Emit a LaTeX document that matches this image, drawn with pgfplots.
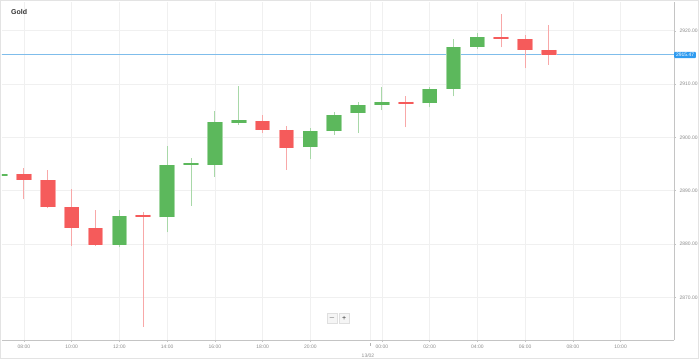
\documentclass[border=0pt]{standalone}
\usepackage{pgfplots}
\pgfplotsset{compat=1.18}
\usepackage{fontspec}
\setmainfont{Liberation Sans}
\definecolor{cgreen}{HTML}{5CB85C}
\definecolor{cred}{HTML}{F55B5B}
\definecolor{gwick}{HTML}{A8D8A8}
\definecolor{rwick}{HTML}{F8A8A8}
\definecolor{gridc}{HTML}{F0F0F0}
\definecolor{axc}{HTML}{C4C4C4}
\definecolor{pline}{HTML}{7FBDEB}
\definecolor{pbox}{HTML}{2E9BF0}
\definecolor{tickc}{HTML}{8C8C8C}
\definecolor{titlec}{HTML}{333333}
\begin{document}
\begin{tikzpicture}
\useasboundingbox (-2pt,-19pt) rectangle (697pt,340pt);
\draw[gray!22, line width=0.6pt] (-1.5pt,-18.5pt) rectangle (696.5pt,339.4pt);
\begin{axis}[
  scale only axis, width=672pt, height=338pt,
  xmin=-0.92, xmax=27.24, ymin=2862.0, ymax=2925.4,
  clip mode=individual,
  unbounded coords=jump,
  axis x line*=bottom, axis y line*=right,
  axis line style={axc, line width=0.6pt, -},
  tick align=outside, major tick length=2pt,
  tick style={axc, line width=0.5pt},
  xtick={0,2,4,6,8,10,12,15,17,19,21,23,25},
  xticklabels={08:00,10:00,12:00,14:00,16:00,18:00,20:00,00:00,02:00,04:00,06:00,08:00,10:00},
  extra x ticks={14.5},
  extra x tick labels={13/02},
  extra x tick style={grid style={gray!28, line width=0.6pt}, major tick length=6pt,
     tick style={gray!60, dashed, line width=0.5pt},
     xticklabel style={yshift=-5.5pt, xshift=-2pt}},
  ytick={2870,2880,2890,2900,2910,2920},
  yticklabel pos=right,
  yticklabel style={/pgf/number format/.cd, fixed, fixed zerofill, precision=2, 1000 sep={}, assume math mode=true},
  xticklabel style={/pgf/number format/assume math mode=true, yshift=0.8pt},
  ticklabel style={font=\fontsize{5}{6}\selectfont, text=tickc},
  grid=major, major grid style={gridc, line width=0.6pt},
]
% price line
\addplot[draw=pline, line width=1pt] coordinates {(-1,2915.47) (28,2915.47)};
% green wicks
\addplot[draw=gwick, line width=1pt] coordinates {
(-1,2892.8) (-1,2893.2) (-1,nan)
(4,2879.4) (4,2886.3) (4,nan)
(6,2882.2) (6,2898.3) (6,nan)
(7,2887.2) (7,2896.1) (7,nan)
(8,2892.6) (8,2904.9) (8,nan)
(9,2902.3) (9,2909.6) (9,nan)
(12,2895.9) (12,2901.8) (12,nan)
(13,2900.5) (13,2904.7) (13,nan)
(14,2900.8) (14,2906.7) (14,nan)
(15,2905.1) (15,2909.4) (15,nan)
(17,2905.7) (17,2909.4) (17,nan)
(18,2907.7) (18,2918.4) (18,nan)
(19,2916.6) (19,2919.6)
};
% red wicks
\addplot[draw=rwick, line width=1pt] coordinates {
(0,2888.4) (0,2894.2) (0,nan)
(1,2886.7) (1,2893.8) (1,nan)
(2,2879.7) (2,2890.3) (2,nan)
(3,2879.7) (3,2886.3) (3,nan)
(5,2864.5) (5,2886.0) (5,nan)
(10,2900.8) (10,2904.2) (10,nan)
(11,2893.9) (11,2902.2) (11,nan)
(16,2901.9) (16,2907.8) (16,nan)
(20,2916.9) (20,2923.2) (20,nan)
(21,2913.0) (21,2919.3) (21,nan)
(22,2913.6) (22,2921.1)
};
% green bodies (open, close)
\pgfplotsset{gbody/.style={line cap=butt, line width=#1}}
\addplot[draw=cgreen!55, gbody=15.6pt] coordinates {
(-1,2892.85) (-1,2893.15) (-1,nan)
(4,2879.9) (4,2885.3) (4,nan)
(6,2885.0) (6,2894.8) (6,nan)
(7,2894.87) (7,2895.13) (7,nan)
(8,2894.9) (8,2902.8) (8,nan)
(9,2902.75) (9,2903.25) (9,nan)
(12,2898.2) (12,2901.2) (12,nan)
(13,2901.2) (13,2904.2) (13,nan)
(14,2904.6) (14,2906.1) (14,nan)
(15,2906.1) (15,2906.6) (15,nan)
(17,2906.4) (17,2909.1) (17,nan)
(18,2909.1) (18,2916.9) (18,nan)
(19,2917.0) (19,2918.8)
};
\addplot[draw=cgreen, gbody=13.8pt] coordinates {
(-1,2892.85) (-1,2893.15) (-1,nan)
(4,2879.9) (4,2885.3) (4,nan)
(6,2885.0) (6,2894.8) (6,nan)
(7,2894.87) (7,2895.13) (7,nan)
(8,2894.9) (8,2902.8) (8,nan)
(9,2902.75) (9,2903.25) (9,nan)
(12,2898.2) (12,2901.2) (12,nan)
(13,2901.2) (13,2904.2) (13,nan)
(14,2904.6) (14,2906.1) (14,nan)
(15,2906.1) (15,2906.6) (15,nan)
(17,2906.4) (17,2909.1) (17,nan)
(18,2909.1) (18,2916.9) (18,nan)
(19,2917.0) (19,2918.8)
};
% red bodies (open, close)
\addplot[draw=cred!55, gbody=15.6pt] coordinates {
(0,2893.2) (0,2892.0) (0,nan)
(1,2892.0) (1,2886.9) (1,nan)
(2,2886.9) (2,2883.0) (2,nan)
(3,2883.0) (3,2879.9) (3,nan)
(5,2885.5) (5,2885.0) (5,nan)
(10,2903.1) (10,2901.4) (10,nan)
(11,2901.4) (11,2898.1) (11,nan)
(16,2906.7) (16,2906.3) (16,nan)
(20,2918.9) (20,2918.5) (20,nan)
(21,2918.4) (21,2916.4) (21,nan)
(22,2916.4) (22,2915.47)
};
\addplot[draw=cred, gbody=13.8pt] coordinates {
(0,2893.2) (0,2892.0) (0,nan)
(1,2892.0) (1,2886.9) (1,nan)
(2,2886.9) (2,2883.0) (2,nan)
(3,2883.0) (3,2879.9) (3,nan)
(5,2885.5) (5,2885.0) (5,nan)
(10,2903.1) (10,2901.4) (10,nan)
(11,2901.4) (11,2898.1) (11,nan)
(16,2906.7) (16,2906.3) (16,nan)
(20,2918.9) (20,2918.5) (20,nan)
(21,2918.4) (21,2916.4) (21,nan)
(22,2916.4) (22,2915.47)
};
% title
\node[anchor=west, font=\bfseries\fontsize{7}{8}\selectfont, text=titlec, inner sep=0pt]
  at (rel axis cs:0.0134,0.969) {Gold};
% current price label
\node[anchor=west, fill=pbox, text=white, font=\fontsize{5}{6}\selectfont,
  inner xsep=1.8pt, inner ysep=1.3pt, rounded corners=0.8pt] at (axis cs:27.24,2915.47) {2915.47};
% zoom buttons
\node[draw=gray!25, fill=gray!8, minimum width=9.5pt, minimum height=9.5pt, inner sep=0pt,
  font=\fontsize{7}{7}\selectfont, text=titlec] at (rel axis cs:0.491,0.065) {$-$};
\node[draw=gray!25, fill=gray!8, minimum width=9.5pt, minimum height=9.5pt, inner sep=0pt,
  font=\fontsize{7}{7}\selectfont, text=titlec] at (rel axis cs:0.509,0.065) {+};
\end{axis}
\end{tikzpicture}
\end{document}
